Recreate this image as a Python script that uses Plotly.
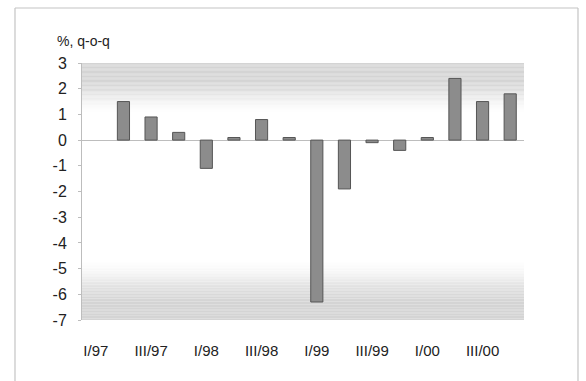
import plotly.graph_objects as go

# Quarterly GDP growth, % quarter-on-quarter
quarters = ["I/97", "II/97", "III/97", "IV/97",
            "I/98", "II/98", "III/98", "IV/98",
            "I/99", "II/99", "III/99", "IV/99",
            "I/00", "II/00", "III/00", "IV/00"]
growth = [None, 1.5, 0.9, 0.3,
          -1.1, 0.1, 0.8, 0.1,
          -6.3, -1.9, -0.1, -0.4,
          0.1, 2.4, 1.5, 1.8]
tick_labels = ["I/97", "III/97", "I/98", "III/98", "I/99", "III/99", "I/00", "III/00"]
y_ticks = [3, 2, 1, 0, -1, -2, -3, -4, -5, -6, -7]
y_tick_text = [str(v) for v in y_ticks]  # plain hyphen for negatives

FONT = "Liberation Sans Narrow, Liberation Sans, Arial, sans-serif"

fig = go.Figure()
fig.add_trace(go.Bar(
    x=quarters, y=growth, width=0.44,
    marker=dict(color="#8c8c8c", line=dict(color="#555555", width=1)),
    showlegend=False,
))


def shade(t):
    # grey fading to white as t goes from 0 to 1
    t = max(0.0, min(1.0, t))
    v = int(round(212 + (255 - 212) * t))
    return f"rgb({v},{v},{v})"


def fade(f, flat):
    # 0 on the flat part, rising smoothly to 1 at the band's inner edge
    if f <= flat:
        return 0.0
    u = (f - flat) / (1 - flat)
    return u * u * (3 - 2 * u)


shapes = []
steps = 40
# shaded band at the top of the plot area: flat grey, then fading
top_h, top_flat = 0.20, 0.30
for i in range(steps):
    f = (i + 0.5) / steps
    shapes.append(dict(type="rect", xref="x domain", yref="y domain",
                       x0=0, x1=1, y0=1 - (i + 1) * top_h / steps, y1=1 - i * top_h / steps,
                       fillcolor=shade(fade(f, top_flat)), line=dict(width=0), layer="below"))
# shaded band at the bottom of the plot area
bot_h, bot_flat = 0.24, 0.25
for i in range(steps):
    f = (i + 0.5) / steps
    shapes.append(dict(type="rect", xref="x domain", yref="y domain",
                       x0=0, x1=1, y0=i * bot_h / steps, y1=(i + 1) * bot_h / steps,
                       fillcolor=shade(fade(f, bot_flat)), line=dict(width=0), layer="below"))

# outer frame (left, top, right edges), in pixel offsets from the plot area
PW, PH = 442, 257
frame = dict(color="#c4c4c4", width=1.2)
left, right, top = -67 / PW, 1 + 54 / PW, 1 + 55 / PH
shapes += [
    dict(type="line", xref="paper", yref="paper", x0=left, x1=left, y0=-0.5, y1=top, line=frame),
    dict(type="line", xref="paper", yref="paper", x0=left, x1=right, y0=top, y1=top, line=frame),
    dict(type="line", xref="paper", yref="paper", x0=right, x1=right, y0=-0.5, y1=top, line=frame),
]

fig.update_layout(
    width=586, height=381,
    margin=dict(l=82, r=62, t=63, b=61),
    paper_bgcolor="white", plot_bgcolor="white",
    shapes=shapes,
    font=dict(family=FONT, color="#222222"),
    annotations=[dict(text="%, q-o-q", xref="paper", yref="paper",
                      x=-27 / PW, y=1 + 22 / PH, xanchor="left", yanchor="middle",
                      showarrow=False, font=dict(size=14, family=FONT, color="#222"))],
    xaxis=dict(
        type="category", categoryorder="array", categoryarray=quarters,
        range=[-0.5, 15.5],
        tickmode="array", tickvals=tick_labels, ticktext=tick_labels,
        showline=False, showgrid=False, ticks="", ticklen=0,
        tickfont=dict(size=15, family=FONT, color="#222"),
        ticklabelstandoff=20,
    ),
    yaxis=dict(
        range=[-7, 3], tickmode="array", tickvals=y_ticks, ticktext=y_tick_text,
        showgrid=False, zeroline=True, zerolinecolor="#bdbdbd", zerolinewidth=1,
        showline=True, linecolor="#bdbdbd", linewidth=1,
        ticks="outside", ticklen=3, tickcolor="#bdbdbd",
        tickfont=dict(size=16, family=FONT, color="#222"),
        ticklabelstandoff=8,
    ),
)

fig.write_html("out.html")
